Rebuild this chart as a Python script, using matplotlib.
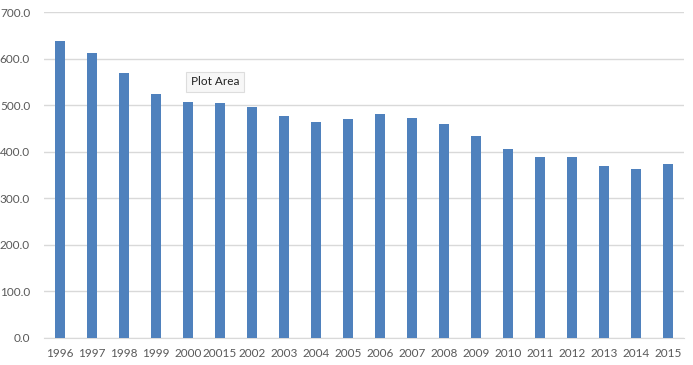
import matplotlib
matplotlib.use("Agg")
import matplotlib.pyplot as plt

years = ["1996", "1997", "1998", "1999", "2000", "20015", "2002", "2003", "2004", "2005",
         "2006", "2007", "2008", "2009", "2010", "2011", "2012", "2013", "2014", "2015"]
values = [637.5, 612.5, 569.5, 524.0, 507.0, 505.0, 496.0, 476.5, 463.5, 470.0,
          481.0, 472.5, 459.5, 434.0, 406.0, 388.5, 388.5, 369.5, 363.0, 373.5]
yticks = [0, 100, 200, 300, 400, 500, 600, 700]

plt.rcParams['font.family'] = ['Lato', 'DejaVu Sans']

fig = plt.figure(figsize=(6.93, 3.65), dpi=100)
ax = fig.add_axes([0.0635, 0.074, 0.9235, 0.893])

x = range(len(years))
ax.bar(x, values, width=0.31, color='#4F81BD', zorder=3)

ax.set_xlim(-0.5, len(years) - 0.5)
ax.set_ylim(0, 700)
ax.set_yticks(yticks)
ax.set_yticklabels(["%.1f" % v for v in yticks])
ax.set_xticks(list(x))
ax.set_xticklabels(years)
ax.grid(axis='y', color='#D9D9D9', linewidth=1, zorder=0)

for s in ['top', 'right', 'left']:
    ax.spines[s].set_visible(False)
ax.spines['bottom'].set_color('#D9D9D9')
ax.tick_params(axis='both', length=0, colors='#595959', labelsize=8.5)
ax.tick_params(axis='y', pad=10)
ax.tick_params(axis='x', pad=7)

# tooltip seen in the screenshot
ax.text(4.84, 550, "Plot Area", ha='center', va='center', fontsize=8.5, color='#222222',
        bbox=dict(boxstyle='square,pad=0.4', fc='#F7F7F7', ec='#DDDDDD', lw=0.8), zorder=5)

fig.savefig("out.png", dpi=100)
